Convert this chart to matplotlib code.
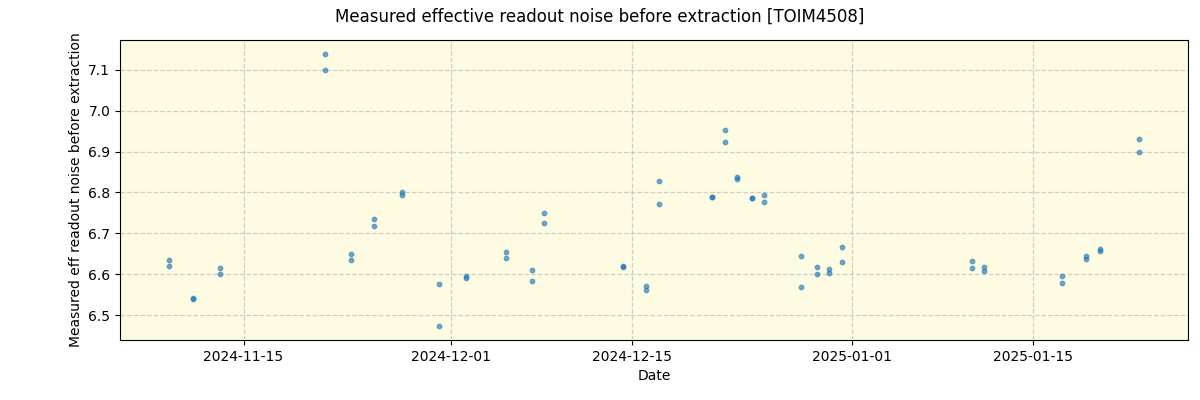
import numpy as np
import pandas as pd
import matplotlib
matplotlib.use('Agg')
import matplotlib.pyplot as plt

# observation times (two measurements per epoch)
obs_times = [
    '2024-11-09 05:00', '2024-11-11 02:00', '2024-11-13 05:00', '2024-11-21 07:00',
    '2024-11-23 07:00', '2024-11-25 02:00', '2024-11-27 05:00', '2024-11-30 02:00',
    '2024-12-02 05:00', '2024-12-05 07:00', '2024-12-07 07:00', '2024-12-08 05:00',
    '2024-12-14 07:00', '2024-12-16 02:00', '2024-12-17 02:00', '2024-12-21 05:00',
    '2024-12-22 05:00', '2024-12-23 03:00', '2024-12-24 07:00', '2024-12-25 05:00',
    '2024-12-28 02:00', '2024-12-29 07:00', '2024-12-30 05:00', '2024-12-31 05:00',
    '2025-01-10 07:00', '2025-01-11 05:00', '2025-01-17 05:00', '2025-01-19 02:00',
    '2025-01-20 04:00', '2025-01-23 05:00',
]
noise_a = [6.634, 6.543, 6.615, 7.139, 6.649, 6.734, 6.802, 6.576, 6.595, 6.654,
           6.610, 6.750, 6.621, 6.571, 6.827, 6.790, 6.953, 6.838, 6.787, 6.795,
           6.646, 6.617, 6.613, 6.666, 6.632, 6.617, 6.595, 6.644, 6.661, 6.931]
noise_b = [6.620, 6.540, 6.600, 7.100, 6.634, 6.719, 6.793, 6.473, 6.590, 6.641,
           6.583, 6.726, 6.619, 6.563, 6.771, 6.788, 6.924, 6.834, 6.786, 6.776,
           6.568, 6.602, 6.604, 6.629, 6.615, 6.607, 6.580, 6.637, 6.656, 6.900]

t = pd.to_datetime(obs_times)
x = np.concatenate([t, t])
y = np.concatenate([noise_a, noise_b])

fig = plt.figure(figsize=(12, 4), dpi=100)
ax = fig.add_axes([0.1, 0.15, 0.89, 0.75])
ax.set_facecolor('#fdfbe2')

ax.scatter(x, y, s=10, color='tab:blue', alpha=0.6, zorder=3)

ax.grid(True, color='#b0b0c0', alpha=0.6, linestyle='--', linewidth=0.9)
ax.set_xticks(pd.to_datetime(['2024-11-15', '2024-12-01', '2024-12-15',
                              '2025-01-01', '2025-01-15']))
ax.xaxis.set_major_formatter(matplotlib.dates.DateFormatter('%Y-%m-%d'))

ax.set_xlabel('Date')
ax.set_ylabel('Measured eff readout noise before extraction')
fig.suptitle('Measured effective readout noise before extraction [TOIM4508]', y=0.98, fontsize=12)

plt.savefig('out.png', dpi=100)
plt.close()
